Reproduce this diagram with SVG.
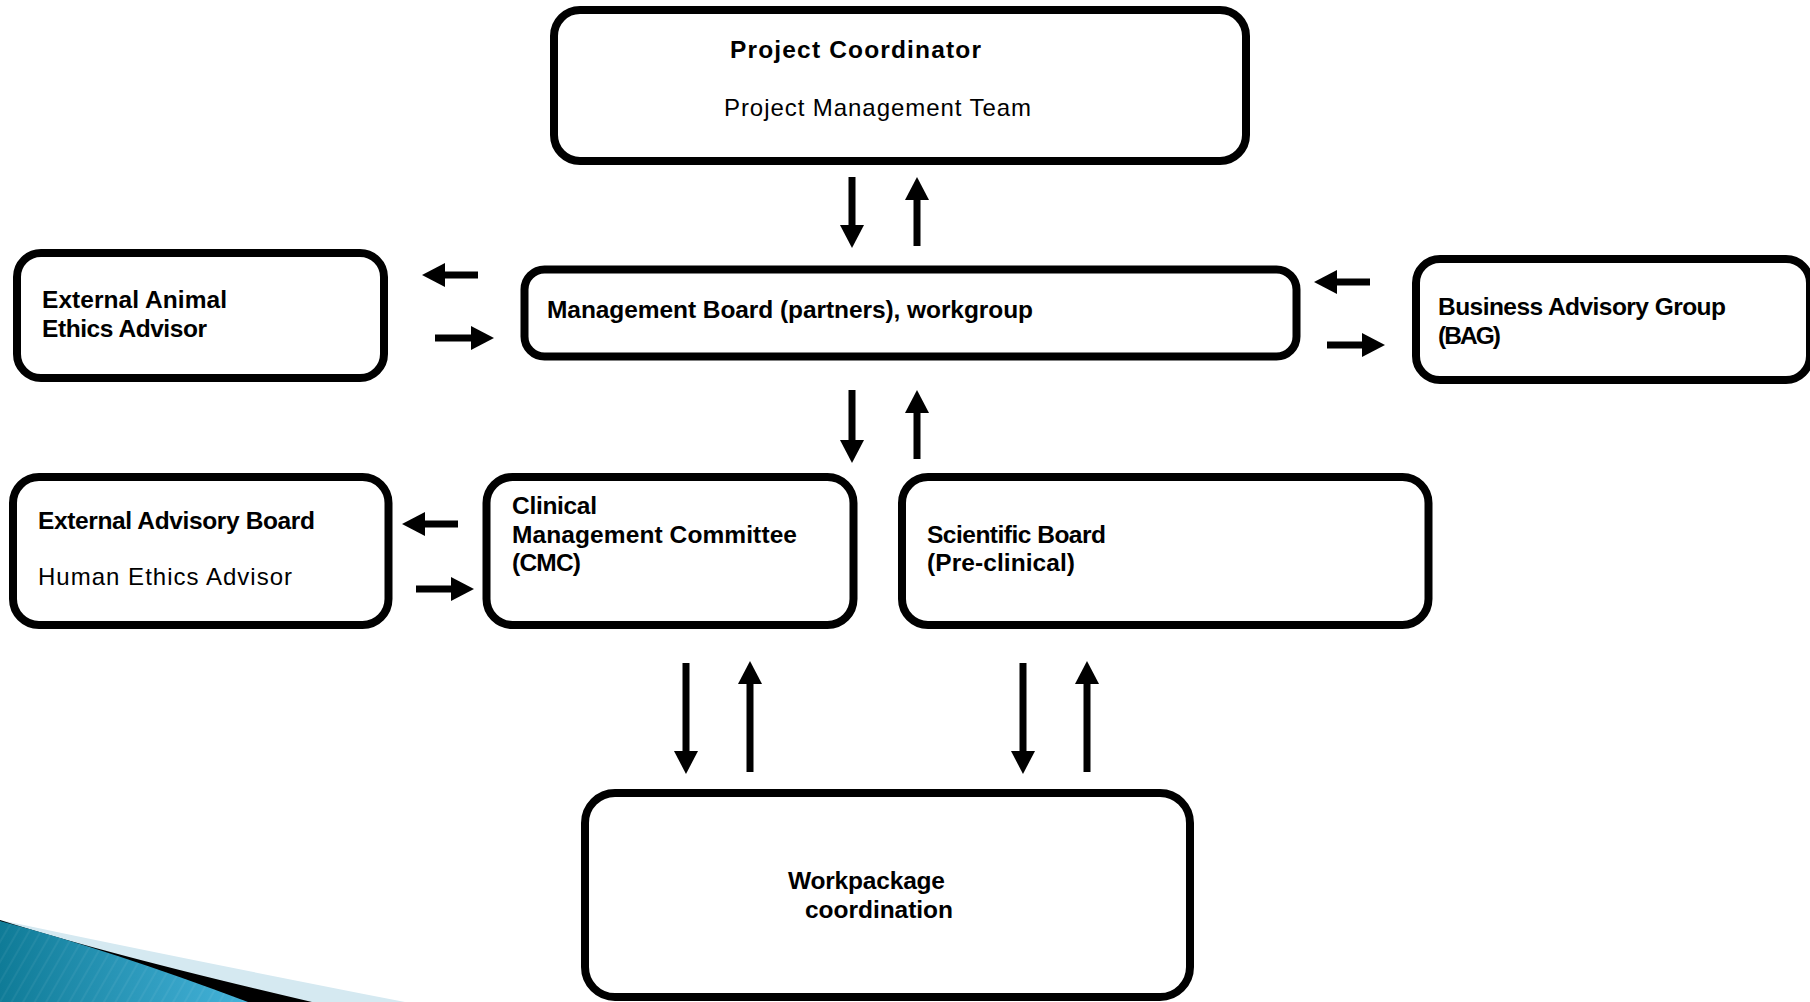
<svg xmlns="http://www.w3.org/2000/svg" width="1810" height="1002" viewBox="0 0 1810 1002">
<style>
.box{fill:#fff;stroke:#000;stroke-width:8}
.b{font-family:"Liberation Sans",Arial,sans-serif;font-weight:bold;font-size:24.5px;fill:#000}
.r{font-family:"Liberation Sans",Arial,sans-serif;font-size:24px;fill:#000}
.shaft{stroke:#000;stroke-width:7;fill:none}
</style>
<defs>
<marker id="ah" markerWidth="23" markerHeight="24" refX="0" refY="12" orient="auto" markerUnits="userSpaceOnUse" viewBox="0 0 23 24">
<path d="M0,0 L23,12 L0,24 Z" fill="#000"/>
</marker>
<linearGradient id="sw" x1="0" y1="0" x2="1" y2="0">
<stop offset="0" stop-color="#0f7b97"/>
<stop offset="1" stop-color="#45b3da"/>
</linearGradient>
<pattern id="stripes" width="10" height="10" patternUnits="userSpaceOnUse" patternTransform="rotate(30)">
<line x1="1" y1="0" x2="1" y2="10" stroke="#ffffff" stroke-opacity="0.07" stroke-width="1.5"/>
</pattern>
</defs>
<rect width="1810" height="1002" fill="#fff"/>

<g id="swoosh">
<path d="M0,920 Q150,952 405,1002 L0,1002 Z" fill="#d5e9f1"/>
<path d="M0,920 Q110,955 312,1002 L0,1002 Z" fill="#000"/>
<path d="M0,921 Q110,950 248,1002 L0,1002 Z" fill="url(#sw)"/>
<path d="M0,921 Q110,950 248,1002 L0,1002 Z" fill="url(#stripes)"/>
</g>

<g id="connectors">
<line class="shaft" x1="852" y1="177" x2="852" y2="225" marker-end="url(#ah)"/>
<line class="shaft" x1="917" y1="246" x2="917" y2="200" marker-end="url(#ah)"/>
<line class="shaft" x1="478" y1="275" x2="445" y2="275" marker-end="url(#ah)"/>
<line class="shaft" x1="435" y1="338" x2="471" y2="338" marker-end="url(#ah)"/>
<line class="shaft" x1="1370" y1="282" x2="1337" y2="282" marker-end="url(#ah)"/>
<line class="shaft" x1="1327" y1="345" x2="1362" y2="345" marker-end="url(#ah)"/>
<line class="shaft" x1="852" y1="390" x2="852" y2="440" marker-end="url(#ah)"/>
<line class="shaft" x1="917" y1="459" x2="917" y2="413" marker-end="url(#ah)"/>
<line class="shaft" x1="458" y1="524" x2="425" y2="524" marker-end="url(#ah)"/>
<line class="shaft" x1="416" y1="589" x2="451" y2="589" marker-end="url(#ah)"/>
<line class="shaft" x1="686" y1="663" x2="686" y2="751" marker-end="url(#ah)"/>
<line class="shaft" x1="750" y1="772" x2="750" y2="684" marker-end="url(#ah)"/>
<line class="shaft" x1="1023" y1="663" x2="1023" y2="751" marker-end="url(#ah)"/>
<line class="shaft" x1="1087" y1="772" x2="1087" y2="684" marker-end="url(#ah)"/>
</g>

<g id="project-coordinator">
<rect class="box" x="554" y="10" width="692" height="151" rx="26"/>
<text class="b" x="730" y="58" font-size="27" textLength="251">Project Coordinator</text>
<text class="r" x="724" y="116" textLength="307">Project Management Team</text>
</g>

<g id="animal-ethics">
<rect class="box" x="17" y="253" width="367" height="125" rx="24"/>
<text class="b" x="42" y="308" textLength="185">External Animal</text>
<text class="b" x="42" y="337" textLength="165">Ethics Advisor</text>
</g>

<g id="management-board">
<rect class="box" x="524.5" y="269.5" width="772" height="87" rx="20"/>
<text class="b" x="547" y="318" textLength="486">Management Board (partners), workgroup</text>
</g>

<g id="bag">
<rect class="box" x="1416" y="259" width="394" height="121" rx="24"/>
<text class="b" x="1438" y="315" textLength="288">Business Advisory Group</text>
<text class="b" x="1438" y="344" textLength="63">(BAG)</text>
</g>

<g id="external-advisory-board">
<rect class="box" x="13" y="477" width="375.5" height="148" rx="26"/>
<text class="b" x="38" y="529" textLength="277">External Advisory Board</text>
<text class="r" x="38" y="585" textLength="254">Human Ethics Advisor</text>
</g>

<g id="cmc">
<rect class="box" x="486.5" y="477" width="367" height="148" rx="26"/>
<text class="b" x="512" y="514" textLength="85">Clinical</text>
<text class="b" x="512" y="543" textLength="285">Management Committee</text>
<text class="b" x="512" y="571" textLength="69">(CMC)</text>
</g>

<g id="scientific-board">
<rect class="box" x="902" y="477" width="526.5" height="148" rx="26"/>
<text class="b" x="927" y="543" textLength="179">Scientific Board</text>
<text class="b" x="927" y="571" textLength="148">(Pre-clinical)</text>
</g>

<g id="workpackage">
<rect class="box" x="585" y="793" width="605" height="204" rx="30"/>
<text class="b" x="788" y="889" textLength="157">Workpackage</text>
<text class="b" x="805" y="918" textLength="148">coordination</text>
</g>
</svg>
